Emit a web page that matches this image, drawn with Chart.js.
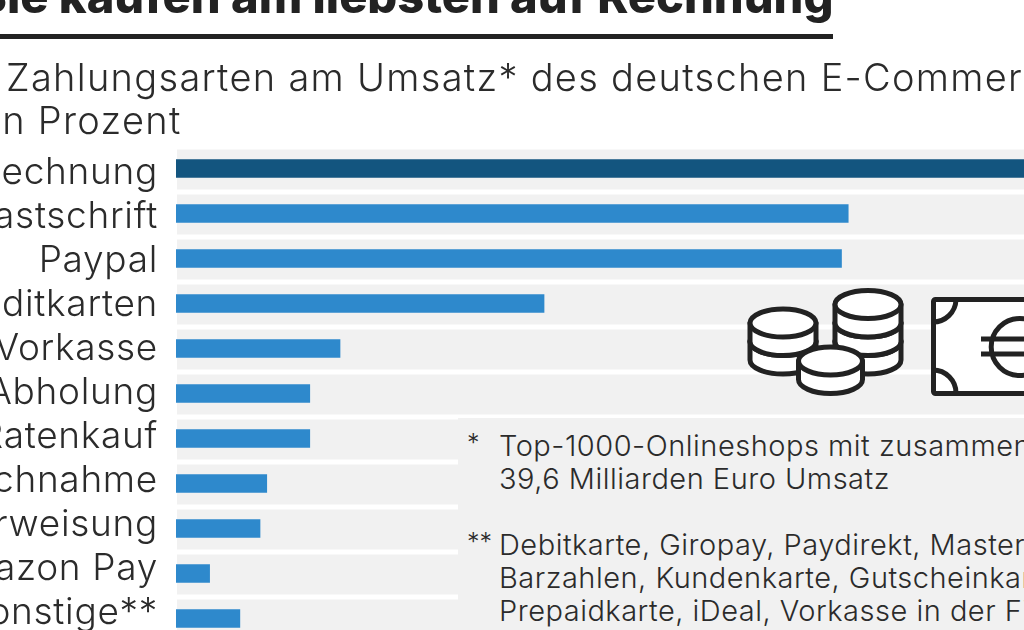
<!DOCTYPE html>
<html lang="de">
<head>
<meta charset="utf-8">
<title>Zahlungsarten</title>
<script src="https://cdn.jsdelivr.net/npm/chart.js@4"></script>
<style>
    html, body { margin: 0; padding: 0; width: 1024px; height: 630px; overflow: hidden; background: #fff; }
    body { position: relative; font-family: 'Inter', sans-serif; color: #2b2b2b; }
    canvas { position: absolute; left: -124px; top: 0; }
    .t { position: absolute; white-space: nowrap; }
    #headline { left: -24px; top: -33px; font-size: 47px; line-height: 58px; font-weight: 800; color: #222; }
    #rule { position: absolute; left: 0; top: 34px; width: 833px; height: 5px; background: #222; }
    .sub { font-size: 38px; line-height: 42px; font-weight: 300; letter-spacing: 1.3px; }
    #panel { position: absolute; left: 458px; top: 418px; width: 566px; height: 212px; background: #f1f1f1; }
    .note { font-size: 29px; line-height: 33px; font-weight: 300; letter-spacing: 0.5px; }
    .star { font-size: 25px; line-height: 33px; font-weight: 300; }
    svg { position: absolute; left: 0; top: 0; }
</style>
</head>
<body>
<canvas id="barChart" width="1510" height="700"></canvas>
<div id="panel"></div>
<div class="t" id="headline">Sie kaufen am liebsten auf Rechnung</div>
<div id="rule"></div>
<div class="t sub" style="left:6px;top:56px">Zahlungsarten am Umsatz* des deutschen E-Commerce</div>
<div class="t sub" style="left:-8px;top:99px">in Prozent</div>
<div class="t star" style="left:467px;top:427px">*</div>
<div class="t note" style="left:499px;top:429px">Top-1000-Onlineshops mit zusammen<br>39,6 Milliarden Euro Umsatz</div>
<div class="t star" style="left:467px;top:526px">**</div>
<div class="t note" style="left:499px;top:528px">Debitkarte, Giropay, Paydirekt, Masterpass,<br>Barzahlen, Kundenkarte, Gutscheinkarte,<br>Prepaidkarte, iDeal, Vorkasse in der Filiale</div>
<svg id="icons" width="1024" height="630"></svg>
<script>
    // ─── DATA ───
    const categories = ['Rechnung', 'Lastschrift', 'Paypal', 'Kreditkarten', 'Vorkasse', 'Abholung',
        'Ratenkauf', 'Nachnahme', 'Überweisung', 'Amazon Pay', 'Sonstige**'];
    const shares = [30.5, 20.0, 19.8, 10.95, 4.88, 3.98, 3.98, 2.7, 2.5, 1.0, 1.9];
    const barColors = ['#13557f', '#2e89cc', '#2e89cc', '#2e89cc', '#2e89cc', '#2e89cc',
        '#2e89cc', '#2e89cc', '#2e89cc', '#2e89cc', '#2e89cc'];

    // ─── GREY ROW BANDS ───
    const rowBands = {
        id: 'rowBands',
        beforeDraw(chart) {
            chart.ctx.letterSpacing = '0.7px';
            // labels sit on a slightly tighter pitch than the bars in the original
            chart.scales.y.getLabelItems(chart.chartArea).forEach((item, i) => {
                item.options.translation[1] -= i;
            });
        },
        beforeDatasetsDraw(chart) {
            const { ctx, chartArea, scales } = chart;
            ctx.save();
            ctx.fillStyle = '#f1f1f1';
            categories.forEach((c, i) => {
                ctx.fillRect(chartArea.left + 1, scales.y.getPixelForValue(i) - 19, chartArea.width, 40);
            });
            ctx.restore();
        }
    };

    // ─── CHART ───
    new Chart(document.getElementById('barChart'), {
        type: 'bar',
        data: {
            labels: categories,
            datasets: [{
                data: shares,
                backgroundColor: barColors,
                barThickness: 18,
                borderWidth: 0,
            }]
        },
        options: {
            indexAxis: 'y',
            responsive: false,
            animation: false,
            layout: { padding: { top: 146, bottom: 59 } },
            plugins: { legend: { display: false }, tooltip: { enabled: false } },
            scales: {
                x: { min: 0, max: 36, display: false },
                y: {
                    afterFit(scale) { scale.width = 300; },
                    border: { display: false },
                    grid: { display: false, drawTicks: false },
                    ticks: {
                        autoSkip: false,
                        padding: 18,
                        labelOffset: 4,
                        color: '#2b2b2b',
                        font: { family: 'Inter', size: 37, weight: '300' },
                    }
                }
            }
        },
        plugins: [rowBands]
    });

    // ─── ICONS ───
    function coin(cx, cy, rx) {
        const ry = 14, h = 18.5;
        return `<path d="M${cx - rx},${cy} v${h} a${rx},${ry} 0 0 0 ${2 * rx},0 v${-h} z" fill="#fff"/>` +
            `<ellipse cx="${cx}" cy="${cy}" rx="${rx}" ry="${ry}" fill="#fff"/>`;
    }
    function stack(cx, cy, rx, layers) {
        let out = '';
        for (let i = layers - 1; i >= 0; i--) out += coin(cx, cy + i * 18.5, rx);
        return out;
    }
    document.getElementById('icons').innerHTML =
        `<g stroke="#222" stroke-width="5" stroke-linejoin="round" fill="none">` +
        stack(783, 323, 33, 2) + stack(868, 304.5, 33, 3) + stack(830.5, 361, 32, 1) +
        `<rect x="933.5" y="299.5" width="130" height="94" rx="2" fill="#fff"/>` +
        `<path d="M933,322 A23,23 0 0 0 956,300 M933,370 A23,23 0 0 1 956,393"/>` +
        `<path d="M1040,327 A28.5,28.5 0 1 0 1040,367 M981,339 H1030 M981,354 H1030"/>` +
        `</g>`;
</script>
</body>
</html>
